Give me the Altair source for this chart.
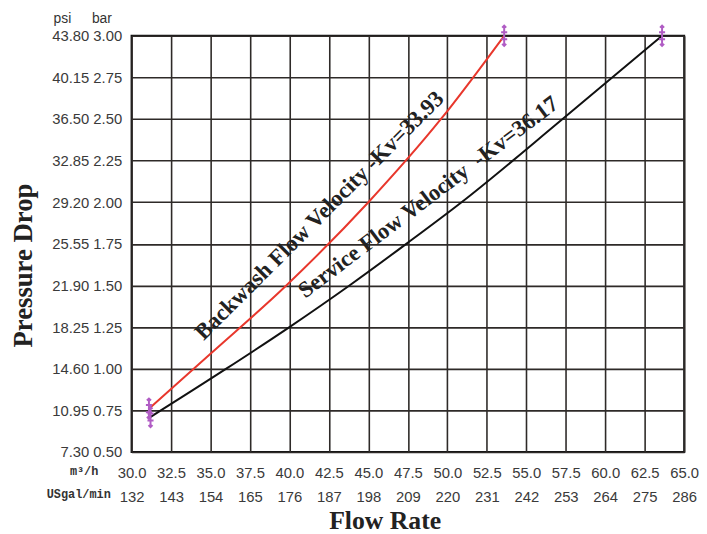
import altair as alt
import pandas as pd

# ---- data ----
backwash_flow = [31.1, 35.0, 39.8, 45.0, 49.6, 53.6]
backwash_bar = [0.76, 1.09, 1.50, 2.00, 2.50, 3.00]
service_flow = [31.2, 36.0, 40.0, 43.8, 47.4, 50.9, 57.3, 63.6]
service_bar = [0.71, 1.00, 1.25, 1.50, 1.75, 2.00, 2.50, 3.00]

x_ticks = [30.0, 32.5, 35.0, 37.5, 40.0, 42.5, 45.0, 47.5, 50.0, 52.5, 55.0, 57.5, 60.0, 62.5, 65.0]
y_ticks = [0.50, 0.75, 1.00, 1.25, 1.50, 1.75, 2.00, 2.25, 2.50, 2.75, 3.00]

label_text = ["Backwash Flow Velocity -Kv=33.93", "Service Flow Velocity\u00a0 -Kv=36.17"]
label_flow = [41.9, 48.8]
label_bar = [1.92, 2.03]
label_angle = [315, 323]

series = pd.DataFrame(
    {"flow": backwash_flow, "bar": backwash_bar, "series": "Backwash", "order": range(len(backwash_flow))}
)
series = pd.concat([
    series,
    pd.DataFrame({"flow": service_flow, "bar": service_bar, "series": "Service", "order": range(len(service_flow))}),
])
ends = pd.DataFrame({
    "flow": [backwash_flow[0], backwash_flow[-1], service_flow[0], service_flow[-1]],
    "bar": [backwash_bar[0], backwash_bar[-1], service_bar[0], service_bar[-1]],
})
labels = pd.DataFrame({"text": label_text, "flow": label_flow, "bar": label_bar, "angle": label_angle})

xscale = alt.Scale(domain=[30, 65], nice=False, zero=False)
yscale = alt.Scale(domain=[0.5, 3.0], nice=False, zero=False)

xaxis = alt.Axis(
    values=x_ticks, tickCount=15,
    labelExpr="[format(datum.value,'.1f'), format(datum.value*4.4,'.0f')]",
    labelFont="Liberation Sans", labelFontSize=15, labelColor="#3a3a3a",
    labelLineHeight=24, labelPadding=14, labelOverlap=False, labelFlush=False,
    ticks=False, domain=False, grid=True, gridColor="#2e2a28", gridWidth=1.6, gridOpacity=1,
    title="Flow Rate", titleFont="Liberation Serif", titleFontSize=26, titleFontWeight="bold",
    titleColor="#222", titleX=256, titleY=77, titleBaseline="alphabetic", titleAlign="center",
)
yaxis = alt.Axis(
    values=y_ticks, tickCount=11,
    labelExpr="format(datum.value*14.6,'.2f') + ' ' + format(datum.value,'.2f')",
    labelFont="Liberation Sans", labelFontSize=15, labelColor="#3a3a3a",
    labelPadding=10, labelOverlap=False, labelFlush=False,
    ticks=False, domain=False, grid=True, gridColor="#2e2a28", gridWidth=1.6, gridOpacity=1,
    title="Pressure Drop", titleFont="Liberation Serif", titleFontSize=27, titleFontWeight="bold",
    titleColor="#222", titleX=-101, titleY=232, titleBaseline="alphabetic", titleAlign="center", titleAngle=270,
)

X = alt.X("flow:Q", scale=xscale, axis=xaxis)
Y = alt.Y("bar:Q", scale=yscale, axis=yaxis)

lines = alt.Chart(series).mark_line(strokeWidth=2, interpolate="monotone").encode(
    x=X, y=Y,
    color=alt.Color("series:N", scale=alt.Scale(domain=["Backwash", "Service"], range=["#e8372c", "#111111"]), legend=None),
    order="order:Q",
)

marker_path = "M0,-1L0,1M-0.3,-0.35L0.3,-0.35M-0.3,0.35L0.3,0.35M-0.2,-0.8L0,-1L0.2,-0.8M-0.2,0.8L0,1L0.2,0.8"
markers = alt.Chart(ends).mark_point(shape=marker_path, size=420, filled=False, stroke="#b05cc4", strokeWidth=2, opacity=1).encode(
    x=X, y=Y,
)

texts = alt.Chart(labels).mark_text(font="Liberation Serif", fontWeight="bold", fontSize=23, color="#222",
                                    align="center", baseline="middle").encode(
    x=X, y=Y,
    text="text:N",
    angle=alt.Angle("angle:Q", scale=None),
)

psi_hdr = alt.Chart(pd.DataFrame({"t": ["psi"]})).mark_text(font="Liberation Sans", fontSize=14, color="#333").encode(
    text="t:N", x=alt.value(-70), y=alt.value(-17))
bar_hdr = alt.Chart(pd.DataFrame({"t": ["bar"]})).mark_text(font="Liberation Sans", fontSize=14, color="#333").encode(
    text="t:N", x=alt.value(-30), y=alt.value(-17))
m3_lbl = alt.Chart(pd.DataFrame({"t": ["m³/h"]})).mark_text(font="Liberation Mono", fontWeight="bold", fontSize=12, color="#333").encode(
    text="t:N", x=alt.value(-48), y=alt.value(440))
gal_lbl = alt.Chart(pd.DataFrame({"t": ["USgal/min"]})).mark_text(font="Liberation Mono", fontWeight="bold", fontSize=12, color="#333", align="right").encode(
    text="t:N", x=alt.value(-21), y=alt.value(464))

chart = alt.layer(lines, markers, texts, psi_hdr, bar_hdr, m3_lbl, gal_lbl).properties(
    width=559, height=421,
    autosize=alt.AutoSizeParams(type="none"),
    padding={"left": 125, "top": 25, "right": 15, "bottom": 86},
    background="white",
).configure_view(stroke="#111", strokeWidth=2)

chart.save("out.html", embed_options={"renderer": "svg", "actions": False})
